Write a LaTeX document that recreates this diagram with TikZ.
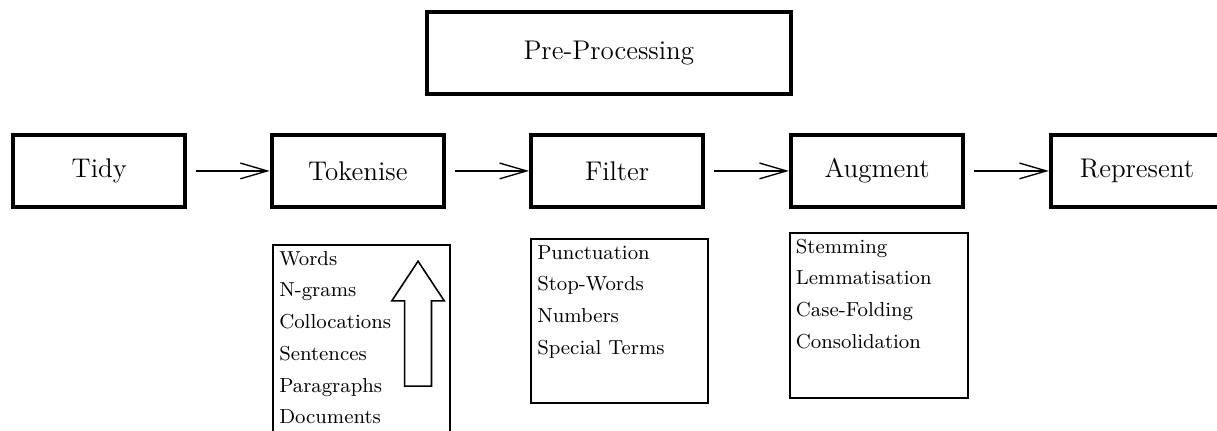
\documentclass[tikz,border=0pt]{standalone}
\usepackage{tikz}
\usetikzlibrary{arrows.meta,calc}
\tikzset{
  prebox/.style={rectangle, draw=black, line width=1.8pt, minimum width=5.69cm, minimum height=1.29cm, font=\large},
  stage/.style ={rectangle, draw=black, line width=1.8pt, minimum width=2.69cm, minimum height=1.13cm, font=\large},
  listbox/.style={rectangle, draw=black, line width=0.9pt, anchor=north west, inner sep=0pt},
  items/.style ={anchor=north west, align=left, inner sep=3pt, font=\small, execute at begin node={\baselineskip=14.1pt}},
  edge/.style  ={-{Straight Barb[length=12pt, width=7pt]}, line width=0.6pt, shorten <=4pt},
  hollow/.style={draw=black, line width=0.7pt, line join=miter},
}

\begin{document}
\begin{tikzpicture}
        \useasboundingbox (0,0) rectangle (19.01,-6.72);
        \node[prebox] (Pre)  at (9.51,-0.83)  {Pre-Processing};
        \node[stage]  (Tidy) at (1.55,-2.67)  {Tidy};
        \node[stage]  (Tok)  at (5.59,-2.67)  {Tokenise};
        \node[stage]  (Filt) at (9.64,-2.67)  {Filter};
        \node[stage]  (Aug)  at (13.70,-2.67) {Augment};
        \node[stage]  (Rep)  at (17.76,-2.67) {Represent};
        \draw[edge] (Tidy) -- (Tok);
        \draw[edge] (Tok) -- (Filt);
        \draw[edge] (Filt) -- (Aug);
        \draw[edge] (Aug) -- (Rep);
        % option lists under the stages
        \node[listbox, minimum width=2.76cm, minimum height=3.3cm]  (TokL)  at (4.25,-3.81)  {};
        \node[listbox, minimum width=2.76cm, minimum height=2.56cm] (FiltL) at (8.28,-3.72)  {};
        \node[listbox, minimum width=2.78cm, minimum height=2.58cm] (AugL)  at (12.32,-3.62) {};
        \node[items] (TokI)  at (TokL.north west)  {Words\\N-grams\\Collocations\\Sentences\\Paragraphs\\Documents};
        \node[items] (FiltI) at (FiltL.north west) {Punctuation\\Stop-Words\\Numbers\\Special Terms};
        \node[items] (AugI)  at (AugL.north west)  {Stemming\\Lemmatisation\\Case-Folding\\Consolidation};
        % granularity arrow
        \coordinate (Up) at (6.53,-4.08);
        \draw[hollow] (Up) -- ++(0.41,-0.62) -- ++(-0.20,0) -- ++(0,-1.33) -- ++(-0.42,0) -- ++(0,1.33) -- ++(-0.20,0) -- cycle;
      \end{tikzpicture}
\end{document}
